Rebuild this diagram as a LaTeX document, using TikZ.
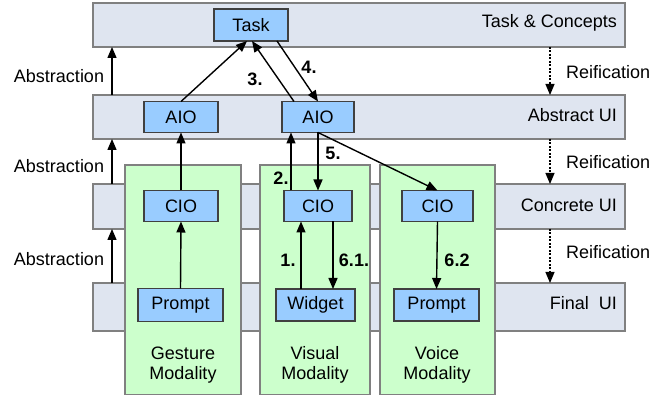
\documentclass[tikz,border=0pt]{standalone}
\usepackage{fontspec}
\setmainfont{Liberation Sans}
\usetikzlibrary{arrows.meta,calc}
\definecolor{bandfill}{RGB}{223,229,240}
\definecolor{bandline}{RGB}{128,128,128}
\definecolor{nodefill}{RGB}{153,204,255}
\definecolor{nodeline}{RGB}{64,64,64}
\definecolor{modfill}{RGB}{204,255,204}
\begin{document}
\begin{tikzpicture}[x=1pt,y=-1pt,
  every node/.style={font=\fontsize{18}{20}\selectfont, inner sep=0pt, outer sep=0pt},
  band/.style={draw=bandline, fill=bandfill, line width=1.3pt, minimum width=532pt},
  modbox/.style={draw=bandline, fill=modfill, line width=1.3pt},
  uinode/.style={draw=nodeline, fill=nodefill, line width=1.1pt},
  arr/.style={line width=1.4pt, -{Triangle[length=11pt,width=9pt]}},
  reif/.style={line width=1.1pt, dash pattern=on 2pt off 1.5pt, -{Triangle[length=11pt,width=9pt]}},
  bandlabel/.style={anchor=east},
  numlabel/.style={font=\fontsize{18}{20}\selectfont\bfseries}]
\useasboundingbox (0,0) rectangle (662,395);
% bands
\node[band, minimum height=44pt] (tc)  at (359,25)    {};
\node[band, minimum height=44pt] (aui) at (359,117)   {};
\node[band, minimum height=45pt] (cui) at (359,206.5) {};
\node[band, minimum height=48pt] (fui) at (359,307)   {};
\node[bandlabel] (tcl)  at (617,23)  {Task \& Concepts};
\node[bandlabel] (auil) at (617,115) {Abstract UI};
\node[bandlabel] (cuil) at (617,205) {Concrete UI};
\node[bandlabel] (fuil) at (617,303) {Final\ \ UI};
% modality boxes
\draw[modbox] (125,165) rectangle (241,394.5);
\draw[modbox] (260,165) rectangle (370,394.5);
\draw[modbox] (380,165) rectangle (495,394.5);
\node[align=center] (gm) at (183,365) {Gesture\\Modality};
\node[align=center] (vm) at (315,365) {Visual\\Modality};
\node[align=center] (om) at (437,365) {Voice\\Modality};
% ui nodes
\node[uinode, minimum width=74pt, minimum height=32pt] (task) at (251,25) {Task};
\node[uinode, minimum width=74pt, minimum height=31pt] (aio1) at (181,117) {AIO};
\node[uinode, minimum width=72pt, minimum height=31pt] (aio2) at (318,117) {AIO};
\node[uinode, minimum width=74pt, minimum height=31pt] (cio1) at (181,206) {CIO};
\node[uinode, minimum width=68pt, minimum height=31pt] (cio2) at (318,206) {CIO};
\node[uinode, minimum width=71pt, minimum height=31pt] (cio3) at (437.5,206) {CIO};
\node[uinode, minimum width=85pt, minimum height=33pt] (prompt1) at (180.5,305) {Prompt};
\node[uinode, minimum width=79pt, minimum height=32pt] (widget) at (315.5,305) {Widget};
\node[uinode, minimum width=85pt, minimum height=32pt] (prompt2) at (436.5,305) {Prompt};
% abstraction / reification
\coordinate (ab) at (112,0);
\coordinate (re) at (550,0);
\draw[arr] (aui.north -| ab) -- (tc.south -| ab);
\draw[arr] (cui.north -| ab) -- (aui.south -| ab);
\draw[arr] (fui.north -| ab) -- (cui.south -| ab);
\node (ab1) at (59,76)  {Abstraction};
\node (ab2) at (59,166) {Abstraction};
\node (ab3) at (59,259) {Abstraction};
\draw[reif] (tc.south -| re) -- (aui.north -| re);
\draw[reif] (aui.south -| re) -- (cui.north -| re);
\draw[reif] (cui.south -| re) -- (fui.north -| re);
\node[anchor=west] (re1) at (566,72)  {Reification};
\node[anchor=west] (re2) at (566,162) {Reification};
\node[anchor=west] (re3) at (566,252) {Reification};
% connectors
\coordinate (t1) at ([xshift=-4]task.south);
\coordinate (t3) at ([xshift=1]task.south);
\coordinate (t4) at ([xshift=26]task.south);
\coordinate (a3) at ([xshift=-24]aio2.north);
\coordinate (a2) at ([xshift=-27]aio2.south);
\coordinate (w1) at ([xshift=-14.5]widget.north);
\coordinate (c61) at ([xshift=15]cio2.south);
\draw[arr] (aio1.north) -- (t1);
\draw[arr] (a3) -- (t3);
\draw[arr] (t4) -- (aio2.north);
\draw[arr] (aio2.south) -- (cio2.north);
\draw[arr] (a2 |- cio2.north) -- (a2);
\draw[arr] (aio2.south) -- (cio3.north);
\draw[arr] (cio1.north) -- (aio1.south);
\draw[arr] (prompt1.north) -- (cio1.south);
\draw[arr] (w1) -- (w1 |- cio2.south);
\draw[arr] (c61) -- (c61 |- widget.north);
\draw[arr] (cio3.south) -- (prompt2.north);
% numbers
\node[numlabel] (n3) at (255,79) {3.};
\node[numlabel] (n4) at (309,67) {4.};
\node[numlabel] (n5) at (333,153) {5.};
\node[numlabel] (n2) at (281,178) {2.};
\node[numlabel] (n1) at (288,260) {1.};
\node[numlabel] (n61) at (354,260) {6.1.};
\node[numlabel] (n62) at (457,260) {6.2};
\end{tikzpicture}
\end{document}
